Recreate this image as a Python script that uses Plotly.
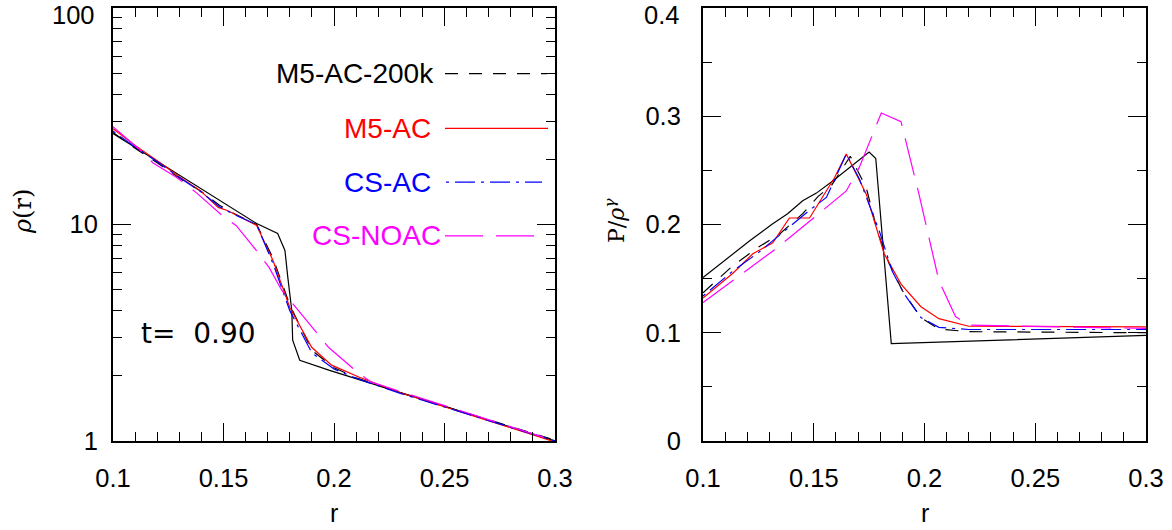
import plotly.graph_objects as go

# ---------------- data ----------------
# Left panel: density rho(r), log scale
r_exact_L = [0.1, 0.165, 0.1745, 0.1778, 0.1791, 0.1809, 0.1813, 0.1845, 0.198, 0.3]
rho_exact = [26.3, 10.1, 9.09, 7.59, 5.70, 4.01, 2.92, 2.36, 2.12, 1.0]

r_m5_200k_L = [0.1, 0.11, 0.12, 0.13, 0.14, 0.148, 0.155, 0.165, 0.1724, 0.18, 0.19, 0.2, 0.21, 0.23, 0.3]
rho_m5_200k = [26.6, 22.5, 19.3, 16.4, 14.2, 12.3, 11.2, 10.0, 7.0, 4.25, 2.62, 2.18, 1.96, 1.67, 1.01]

r_m5_L = [0.1, 0.11, 0.12, 0.13, 0.1396, 0.1476, 0.1517, 0.165, 0.1724, 0.18, 0.1899, 0.1989, 0.2115, 0.2294, 0.3]
rho_m5 = [27.7, 23.2, 19.7, 16.6, 14.3, 12.0, 11.6, 9.9, 6.82, 4.14, 2.71, 2.24, 1.97, 1.68, 0.99]

r_cs_L = [0.1, 0.11, 0.12, 0.13, 0.14, 0.148, 0.155, 0.165, 0.1724, 0.18, 0.19, 0.2, 0.21, 0.23, 0.3]
rho_cs = [27.0, 22.8, 19.5, 16.5, 14.1, 12.1, 11.1, 10.0, 6.6, 4.0, 2.55, 2.15, 1.95, 1.66, 1.0]

r_csno_L = [0.1, 0.1135, 0.118, 0.1288, 0.1378, 0.1503, 0.1557, 0.1653, 0.1706, 0.1764, 0.1831, 0.1939, 0.1975, 0.211, 0.2169, 0.3]
rho_csno = [28.3, 21.5, 19.3, 16.5, 14.0, 10.8, 9.9, 7.5, 6.34, 4.96, 4.10, 3.01, 2.71, 2.06, 1.87, 1.0]

# Right panel: entropy P/rho^gamma
r_exact_R = [0.1, 0.1211, 0.131, 0.1382, 0.145, 0.1512, 0.1584, 0.175, 0.178, 0.185, 0.3]
ent_exact = [0.151, 0.185, 0.200, 0.210, 0.222, 0.229, 0.240, 0.267, 0.261, 0.090, 0.0975]

r_m5_200k_R = [0.1, 0.1135, 0.125, 0.135, 0.145, 0.152, 0.158, 0.1665, 0.1737, 0.1787, 0.184, 0.19, 0.1984, 0.2065, 0.22, 0.3]
ent_m5_200k = [0.137, 0.162, 0.179, 0.192, 0.21, 0.226, 0.236, 0.263, 0.234, 0.194, 0.164, 0.139, 0.114, 0.1035, 0.101, 0.1]

r_m5_R = [0.1, 0.1135, 0.1225, 0.1315, 0.139, 0.1481, 0.1593, 0.1647, 0.1706, 0.1737, 0.1818, 0.1894, 0.1984, 0.2065, 0.22, 0.3]
ent_m5 = [0.132, 0.155, 0.173, 0.183, 0.206, 0.206, 0.243, 0.265, 0.241, 0.228, 0.173, 0.145, 0.124, 0.113, 0.106, 0.1055]

r_cs_R = [0.1, 0.1135, 0.125, 0.138, 0.148, 0.1557, 0.1647, 0.1706, 0.1796, 0.1854, 0.1908, 0.1984, 0.2065, 0.22, 0.3]
ent_cs = [0.134, 0.157, 0.174, 0.196, 0.213, 0.225, 0.265, 0.242, 0.194, 0.157, 0.136, 0.114, 0.105, 0.103, 0.103]

r_csno_R = [0.1, 0.1135, 0.1332, 0.1481, 0.1647, 0.1706, 0.1805, 0.1894, 0.1975, 0.2065, 0.214, 0.22, 0.3]
ent_csno = [0.128, 0.148, 0.178, 0.203, 0.231, 0.253, 0.303, 0.295, 0.228, 0.148, 0.115, 0.107, 0.104]

x_ticks = [0.1, 0.15, 0.2, 0.25, 0.3]
x_ticktext = ["0.1", "0.15", "0.2", "0.25", "0.3"]
yL_ticks = [1, 10, 100]
yL_ticktext = ["1", "10", ""]
yL_top_label = "100"
yR_ticks = [0, 0.1, 0.2, 0.3, 0.4]
yR_ticktext = ["0", "0.1", "0.2", "0.3", ""]
yR_top_label = "0.4"

legend_names = ["M5-AC-200k", "M5-AC", "CS-AC", "CS-NOAC"]
legend_colors = ["black", "#ff0000", "#0000ff", "#ff00ff"]
time_label = "t=  0.90"

# ---------------- styles ----------------
W, H = 1172, 530
L, R, T, B = 113, 26, 6, 89
PW = W - L - R
PH = H - T - B

def px(x):
    return (x - L) / PW

def py(y):
    return 1 - (y - T) / PH

DASH_200K = "13px,11px"
DASH_CS = "3px,6px,20px,6px"
DASH_NO = "38px,13px"

styles = [
    ("black", "solid"),
    ("black", DASH_200K),
    ("#ff0000", "solid"),
    ("#0000ff", DASH_CS),
    ("#ff00ff", DASH_NO),
]

fig = go.Figure()

left_series = [(r_exact_L, rho_exact), (r_m5_200k_L, rho_m5_200k), (r_m5_L, rho_m5),
               (r_cs_L, rho_cs), (r_csno_L, rho_csno)]
right_series = [(r_exact_R, ent_exact), (r_m5_200k_R, ent_m5_200k), (r_m5_R, ent_m5),
                (r_cs_R, ent_cs), (r_csno_R, ent_csno)]

for (xs, ys), (c, d) in zip(left_series, styles):
    fig.add_trace(go.Scatter(x=xs, y=ys, mode="lines", xaxis="x", yaxis="y",
                             line=dict(color=c, width=1.2, dash=d), showlegend=False,
                             hoverinfo="skip"))
for (xs, ys), (c, d) in zip(right_series, styles):
    fig.add_trace(go.Scatter(x=xs, y=ys, mode="lines", xaxis="x2", yaxis="y2",
                             line=dict(color=c, width=1.2, dash=d), showlegend=False,
                             hoverinfo="skip"))

FONT = "Liberation Sans, Arial, sans-serif"
tickfont = dict(family=FONT, size=25.5, color="black")
common = dict(showline=True, linecolor="black", linewidth=2, mirror="allticks",
              ticks="inside", tickcolor="black", tickwidth=1.2, ticklen=18,
              showgrid=False, zeroline=False, tickfont=tickfont,
              ticklabeloverflow="allow")

xdom1 = [0, px(555)]
xdom2 = [px(703), 1]

fig.update_layout(
    width=W, height=H,
    margin=dict(l=L, r=R, t=T, b=B),
    paper_bgcolor="white", plot_bgcolor="white",
    xaxis=dict(domain=xdom1, range=[0.1, 0.3], anchor="y",
               tickmode="array", tickvals=x_ticks, ticktext=x_ticktext,
               minor=dict(dtick=0.01, tick0=0.1, ticks="inside", ticklen=9,
                          tickwidth=1.2, tickcolor="black", showgrid=False),
               ticklabelstandoff=13, **common),
    yaxis=dict(domain=[0, 1], type="log", range=[0, 2], anchor="x",
               tickmode="array", tickvals=yL_ticks, ticktext=yL_ticktext,
               minor=dict(tickmode="array",
                          tickvals=[2, 3, 4, 5, 6, 7, 8, 9, 20, 30, 40, 50, 60, 70, 80, 90],
                          ticks="inside", ticklen=9, tickwidth=1.2, tickcolor="black",
                          showgrid=False),
               ticklabelstandoff=8, **common),
    xaxis2=dict(domain=xdom2, range=[0.1, 0.3], anchor="y2",
                tickmode="array", tickvals=x_ticks, ticktext=x_ticktext,
                minor=dict(dtick=0.01, tick0=0.1, ticks="inside", ticklen=9,
                           tickwidth=1.2, tickcolor="black", showgrid=False),
                ticklabelstandoff=13, **common),
    yaxis2=dict(domain=[0, 1], range=[0, 0.4], anchor="x2",
                tickmode="array", tickvals=yR_ticks, ticktext=yR_ticktext,
                minor=dict(dtick=0.05, tick0=0, ticks="inside", ticklen=9,
                           tickwidth=1.2, tickcolor="black", showgrid=False),
                ticklabelstandoff=15, **common),
)

annots = []
shapes = []

def note(x, y, text, size, color="black", family=FONT, xa="center", ya="middle", angle=0):
    annots.append(dict(x=px(x), y=py(y), xref="paper", yref="paper", text=text,
                       xanchor=xa, yanchor=ya, textangle=angle, showarrow=False,
                       font=dict(family=family, size=size, color=color)))

# top tick labels (kept inside the page, as in the reference)
note(97, 13, yL_top_label, 25.5, xa="right")
note(681, 13, yR_top_label, 25.5, xa="right")
# axis titles
note(334, 513, "r", 25)
note(925, 513, "r", 25)
note(23, 211, "<i>ρ</i>(r)", 24, family="DejaVu Serif", angle=-90)
note(615, 220, "P/<i>ρ</i><sup><i>γ</i></sup>", 22, family="DejaVu Serif", angle=-90)
# time label
note(139, 333, time_label, 28, family="DejaVu Sans", xa="left")

# legend
leg_y = [72, 127, 181, 235]
leg_txt_right = [436, 433, 433, 443]
leg_line = [(445, 547), (445, 548), (446, 542), (445, 538)]
leg_dash = [DASH_200K, "solid", DASH_CS, DASH_NO]
for name, col, yy, xr, (x0, x1), d in zip(legend_names, legend_colors, leg_y, leg_txt_right, leg_line, leg_dash):
    note(xr, yy, name, 28, color=col, xa="right")
    shapes.append(dict(type="line", xref="paper", yref="paper",
                       x0=px(x0), x1=px(x1), y0=py(yy), y1=py(yy),
                       line=dict(color=col, width=1.2, dash=d)))

fig.update_layout(annotations=annots, shapes=shapes)
fig.write_html("out.html",
               config={"displayModeBar": False},
               post_script="document.body.style.margin='0px';document.body.style.overflow='hidden';")
